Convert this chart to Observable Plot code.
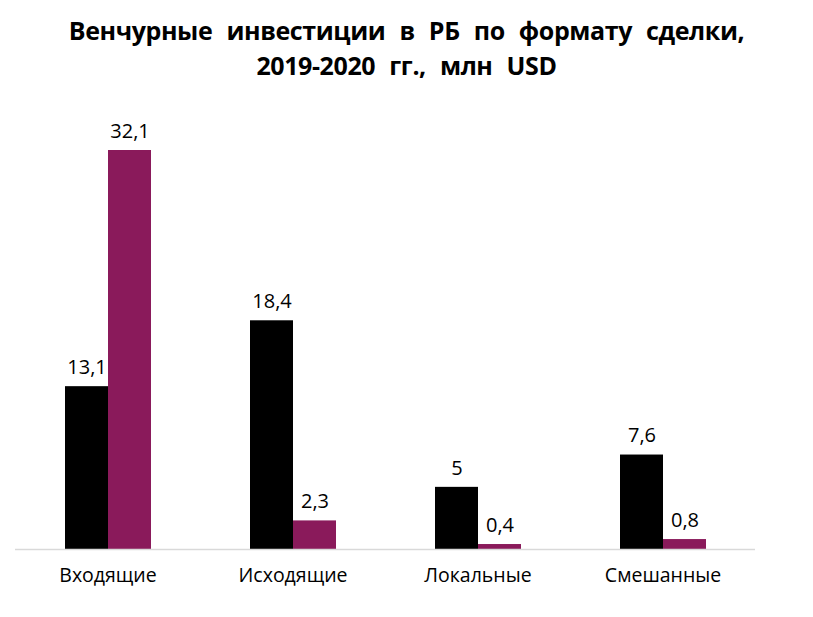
<!DOCTYPE html>
<html><head><meta charset="utf-8">
<script src="https://cdn.jsdelivr.net/npm/d3@7"></script>
<script src="https://cdn.jsdelivr.net/npm/@observablehq/plot@0.6"></script>
<style>
body{margin:0;background:#fff;font-family:"Open Sans",sans-serif;}
#title{height:100px;box-sizing:border-box;padding-top:13px;text-align:center;font-weight:700;font-size:25px;line-height:35px;color:#000;letter-spacing:-0.4px;word-spacing:8px;}
</style></head>
<body>
<div id="title">Венчурные инвестиции в РБ по формату сделки,<br>2019-2020 гг., млн USD</div>
<div id="chart"></div>
<script>
const categories = ["Входящие", "Исходящие", "Локальные", "Смешанные"];
const years = ["2019", "2020"];
const values2019 = [13.1, 18.4, 5, 7.6];
const values2020 = [32.1, 2.3, 0.4, 0.8];
const colors = ["#000000", "#8a1a5b"];

const data = [];
categories.forEach((c, i) => {
  data.push({cat: c, year: years[0], v: values2019[i]});
  data.push({cat: c, year: years[1], v: values2020[i]});
});
const fmt = v => String(v).replace(".", ",");

const plot = Plot.plot({
  width: 813, height: 517,
  marginLeft: 13, marginRight: 57, marginTop: 50, marginBottom: 68,
  style: {fontFamily: "Open Sans, sans-serif", fontSize: "20px", color: "#000"},
  fx: {domain: categories, padding: 0, label: null},
  x: {domain: years, paddingInner: 0, paddingOuter: 1.11, axis: null},
  y: {domain: [0, 32.1], axis: null},
  color: {domain: years, range: colors},
  marks: [
    Plot.barY(data, {fx: "cat", x: "year", y: "v", fill: "year"}),
    Plot.ruleY([0], {stroke: "#d9d9d9", strokeWidth: 1.5}),
    Plot.text(data, {fx: "cat", x: "year", y: "v", text: d => fmt(d.v), dy: -19, fontSize: 20, fill: "#000"}),
    Plot.axisFx({anchor: "bottom", tickSize: 0, tickPadding: 19, fontSize: 19.5, label: null, fill: "#000"})
  ]
});
document.getElementById("chart").appendChild(plot);
</script>
</body></html>
